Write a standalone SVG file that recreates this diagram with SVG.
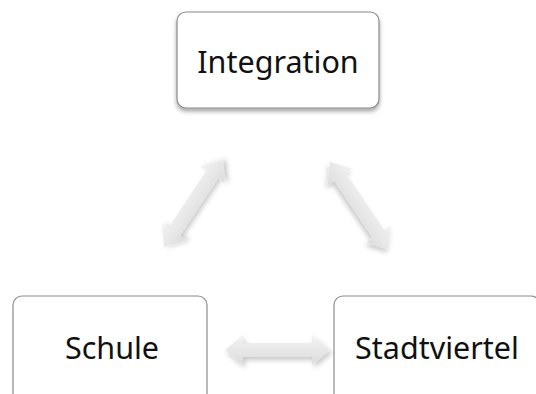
<svg xmlns="http://www.w3.org/2000/svg" width="536" height="394" viewBox="0 0 536 394">
  <defs>
    <filter id="boxShadow" x="-10%" y="-10%" width="130%" height="140%">
      <feDropShadow dx="0" dy="3" stdDeviation="2" flood-color="#000" flood-opacity="0.35"/>
    </filter>
    <filter id="arrowShadow" x="-20%" y="-40%" width="150%" height="200%">
      <feDropShadow dx="2" dy="3" stdDeviation="2.5" flood-color="#000" flood-opacity="0.22"/>
    </filter>
    <linearGradient id="arrowFill" x1="0" y1="0" x2="0" y2="1">
      <stop offset="0" stop-color="#f3f3f3"/>
      <stop offset="1" stop-color="#dcdcdc"/>
    </linearGradient>
    <polygon id="dblArrow" points="0,0 18,-15 18,-7 87,-7 87,-15 105,0 87,15 87,7 18,7 18,15"/>
  </defs>
  <style>
    .box { fill: #ffffff; stroke: #8a8a8a; stroke-width: 1.2; }
    .label { font-family: "Noto Sans", "Open Sans", "Liberation Sans", sans-serif; font-size: 30.5px; fill: #111111; text-anchor: middle; }
    .arrow { fill: url(#arrowFill); filter: url(#arrowShadow); }
  </style>
  <rect width="536" height="394" fill="#ffffff"/>
  <g id="connectors">
    <use href="#dblArrow" class="arrow" transform="translate(164,247) rotate(-56.3)"/>
    <use href="#dblArrow" class="arrow" transform="translate(330,162) rotate(56)"/>
    <use href="#dblArrow" class="arrow" transform="translate(225,350)"/>
  </g>
  <g id="integration">
    <rect class="box" x="177" y="12" width="202" height="96" rx="9" filter="url(#boxShadow)"/>
    <text class="label" x="278" y="73">Integration</text>
  </g>
  <g id="schule">
    <rect class="box" x="13" y="296" width="194" height="120" rx="9"/>
    <text class="label" x="112" y="359">Schule</text>
  </g>
  <g id="stadtviertel">
    <rect class="box" x="334" y="296" width="206" height="120" rx="9"/>
    <text class="label" x="437" y="359">Stadtviertel</text>
  </g>
</svg>
